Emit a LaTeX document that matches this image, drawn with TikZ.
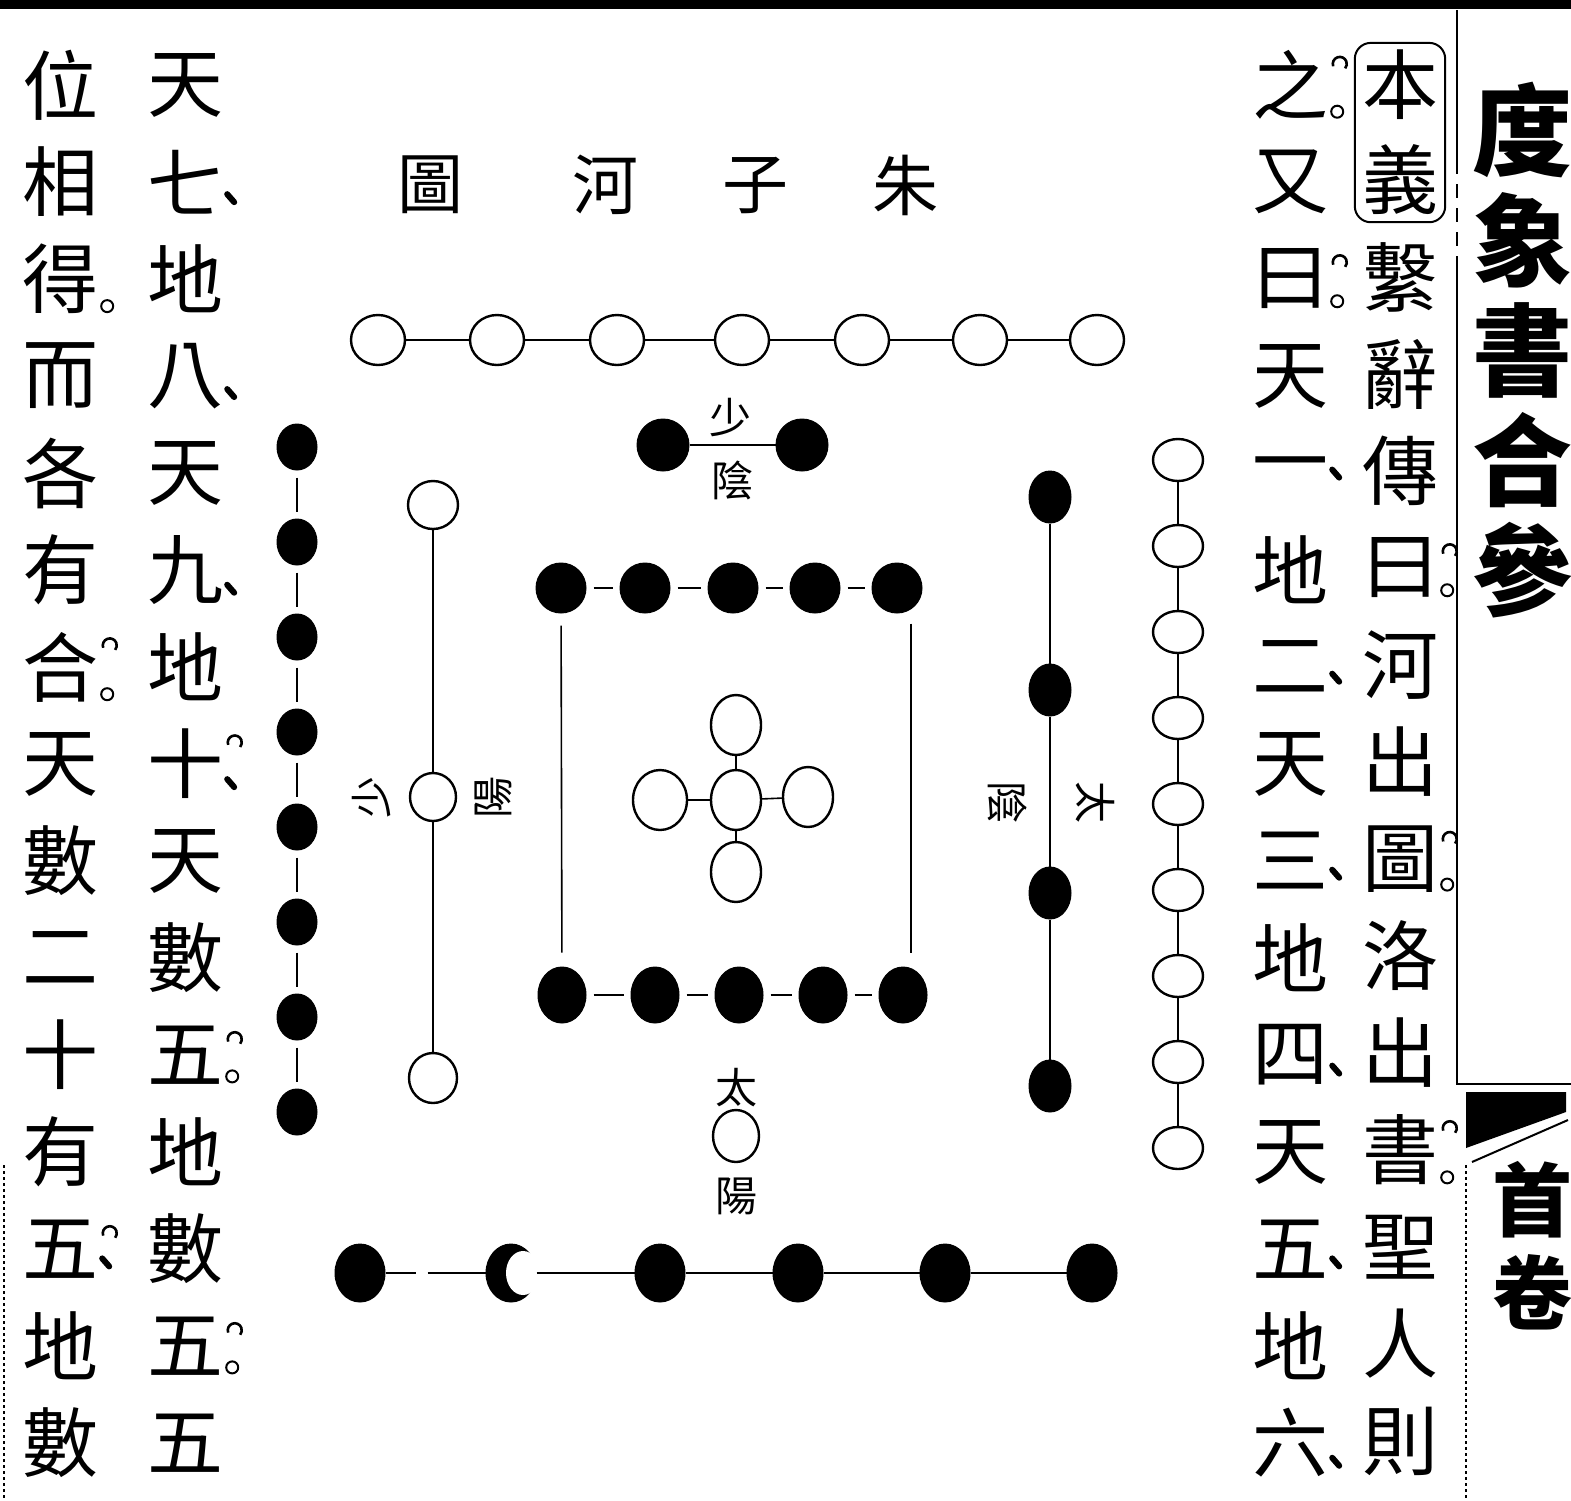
\documentclass[tikz,border=0pt]{standalone}
\usepackage{fontspec}
\newfontfamily\cjk{Noto Sans CJK TC}
\usetikzlibrary{shapes.geometric,fit}
\tikzset{
  zi/.style={font=\cjk\fontsize{76}{76}\selectfont, inner sep=0},
  tizi/.style={font=\cjk\fontsize{66}{66}\selectfont, inner sep=0},
  xiaozi/.style={font=\cjk\fontsize{42}{42}\selectfont, inner sep=0},
  baidian/.style={ellipse, draw, line width=2.4pt, minimum width=54, minimum height=50, inner sep=0},
  heidian/.style={ellipse, draw, fill=black, line width=1pt, minimum width=46, minimum height=52, inner sep=0},
  lian/.style={line width=1.6pt},
  duan/.style={line width=1.6pt, shorten >=7, shorten <=7},
  juhao/.style={circle, draw, line width=2pt, minimum size=12, inner sep=0}
}
\newcommand{\ju}[1]{\node[juhao] (#1j) at ([shift={(9,-8)}]#1.south east) {};}
\newcommand{\gou}[1]{\draw[line width=2.6pt] ([shift={(5,16)}]#1.north east) arc[start angle=160, end angle=400, radius=7];}
\newcommand{\dun}[1]{\draw[line width=6pt, line cap=round] ([shift={(4,-20)}]#1.south east) -- ++(7,8);}
\begin{document}
\begin{tikzpicture}[x=1pt, y=-1pt]
\useasboundingbox (0,0) rectangle (1571,1500);
% page frame
\fill (0,0) rectangle (1571,9);
\draw[line width=2.5pt] (1457,10) -- (1457,160);
\draw[line width=2.5pt, dash pattern=on 14pt off 10pt] (1457,160) -- (1457,265);
\draw[line width=2.5pt] (1457,265) -- (1457,1084) -- (1571,1084);
\fill (1466,1092) -- (1566,1092) -- (1566,1112) -- (1466,1148) -- cycle;
\draw[line width=2pt] (1472,1162) -- (1568,1120);
\draw[line width=2pt, dashed] (1466,1165) -- (1466,1500);
\draw[line width=2pt, dashed] (4,1165) -- (4,1500);
\node[zi, font=\cjk\bfseries\fontsize{80}{80}\selectfont] (shou) at (1532,1200) {首};
\node[zi, font=\cjk\bfseries\fontsize{80}{80}\selectfont] (juan) at (1532,1292) {卷};
\foreach \c [count=\i] in {度,象,書,合,參}
  \node[font=\cjk\bfseries\fontsize{100}{100}\selectfont, inner sep=0] (m\i) at (1522,20+110*\i) {\c};

% right text
\node[zi] (ben) at (1400,85) {本};
\node[zi] (yi) at (1400,180) {義};
\node[draw, line width=2pt, rounded corners=16, fit=(ben)(yi), inner sep=7] (kuang) {};
\foreach \c [count=\i] in {繫,辭,傳,曰,河,出,圖,洛,出,書,聖,人,則}
  \node[zi] (a\i) at (1400,180+97*\i) {\c};
\foreach \c [count=\i] in {之,又,曰,天,一,地,二,天,三,地,四,天,五,地,六}
  \node[zi] (b\i) at (1290,-12+97*\i) {\c};
\gou{a4}\ju{a4}\gou{a7}\ju{a7}\gou{a10}\ju{a10}
\gou{b1}\ju{b1}\gou{b3}\ju{b3}
\foreach \i in {5,7,...,15}{\dun{b\i}}

% left text
\foreach \c [count=\i] in {天,七,地,八,天,九,地,十,天,數,五,地,數,五,五}
  \node[zi] (c\i) at (185,-12+97*\i) {\c};
\foreach \c [count=\i] in {位,相,得,而,各,有,合,天,數,二,十,有,五,地,數}
  \node[zi] (d\i) at (60,-12+97*\i) {\c};
\dun{c2}\dun{c4}\dun{c6}\gou{c8}\dun{c8}\gou{c11}\ju{c11}\gou{c14}\ju{c14}
\ju{d3}\gou{d7}\ju{d7}\gou{d13}\dun{d13}

% title
\node[tizi] (zhu) at (905,185) {朱};
\node[tizi] (zi) at (755,185) {子};
\node[tizi] (he) at (605,185) {河};
\node[tizi] (tu) at (430,185) {圖};

% seven, south
\foreach \x [count=\i] in {378,497,617,742,862,980,1097}
  \node[baidian] (s\i) at (\x,340) {};
\foreach \i in {1,...,6}{
  \pgfmathtruncatemacro\j{\i+1}
  \draw[lian] (s\i) -- (s\j);
}
% six, north
\foreach \x [count=\i] in {360,511,660,798,945,1092}
  \node[heidian, minimum width=50, minimum height=58] (n\i) at (\x,1273) {};
\fill[white] (523,1273) ellipse (17 and 22);
\draw[lian, dash pattern=on 30pt off 12pt on 60pt] (n1) -- (n2);
\foreach \i in {2,...,5}{
  \pgfmathtruncatemacro\j{\i+1}
  \draw[lian] (n\i) -- (n\j);
}
% nine, west
\foreach \i in {1,...,9}
  \node[baidian, minimum width=50, minimum height=42] (w\i) at (1178,374+86*\i) {};
\foreach \i in {1,...,8}{
  \pgfmathtruncatemacro\j{\i+1}
  \draw[lian] (w\i) -- (w\j);
}
% eight, east
\foreach \i in {1,...,8}
  \node[heidian, minimum width=40, minimum height=46] (e\i) at (297,352+95*\i) {};
\foreach \i in {1,...,7}{
  \pgfmathtruncatemacro\j{\i+1}
  \draw[duan] (e\i) -- (e\j);
}
% three
\node[baidian, minimum width=50, minimum height=48] (san1) at (433,505) {};
\node[baidian, minimum width=46, minimum height=48] (san2) at (433,797) {};
\node[baidian, minimum width=48, minimum height=50] (san3) at (433,1078) {};
\draw[lian] (san1) -- (san2);
\draw[lian] (san2) -- (san3);
\node[xiaozi, rotate=90] (shaoL) at (372,797) {少};
\node[xiaozi, rotate=90] (yangL) at (493,797) {陽};
% four
\foreach \y [count=\i] in {497,690,893,1086}
  \node[heidian, minimum width=42, minimum height=52] (si\i) at (1050,\y) {};
\draw[lian] (si1) -- (si2) -- (si3) -- (si4);
\node[xiaozi, rotate=-90] (yinR) at (1008,802) {陰};
\node[xiaozi, rotate=-90] (taiR) at (1095,802) {太};
% two
\node[heidian, minimum width=52, minimum height=52] (er1) at (663,445) {};
\node[heidian, minimum width=52, minimum height=52] (er2) at (802,445) {};
\draw[lian] (er1) -- (er2);
\node[xiaozi, fill=white, inner ysep=2] (shaoT) at (730,418) {少};
\node[xiaozi] (yinT) at (732,480) {陰};
% one
\node[baidian, minimum width=46, minimum height=52] (yi1) at (736,1136) {};
\node[xiaozi] (taiB) at (736,1088) {太};
\node[xiaozi] (yangB) at (736,1196) {陽};
% ten
\foreach \x [count=\i] in {561,645,733,815,897}
  \node[heidian, minimum width=50, minimum height=50] (q\i) at (\x,588) {};
\foreach \x [count=\i] in {562,655,739,823,903}
  \node[heidian, minimum width=48, minimum height=56] (p\i) at (\x,995) {};
\foreach \i in {1,...,4}{
  \pgfmathtruncatemacro\j{\i+1}
  \draw[duan] (q\i) -- (q\j);
  \draw[duan] (p\i) -- (p\j);
}
\draw[lian, shorten <=12, shorten >=14] (q1) -- (p1);
\draw[lian, shorten <=10, shorten >=14] ([xshift=14]q5.south) -- ([xshift=8]p5.north);
% five
\node[baidian, minimum width=50, minimum height=60] (w0) at (736,800) {};
\node[baidian, minimum width=50, minimum height=60] (wt) at (736,725) {};
\node[baidian, minimum width=50, minimum height=60] (wb) at (736,872) {};
\node[baidian, minimum width=54, minimum height=60] (wl) at (660,800) {};
\node[baidian, minimum width=50, minimum height=60] (wr) at (808,797) {};
\foreach \k in {wt,wb,wl,wr}
  \draw[lian] (w0) -- (\k);
\end{tikzpicture}
\end{document}
